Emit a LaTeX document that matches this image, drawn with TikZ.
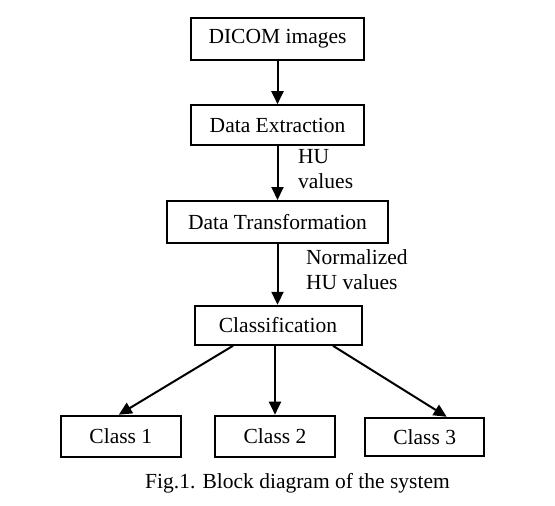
\documentclass[tikz,border=0pt]{standalone}
\usepackage{fontspec}
\setmainfont{Liberation Serif}
\usepackage{tikz}
\usetikzlibrary{arrows.meta}
\tikzstyle{block}=[rectangle, draw, line width=2pt, inner sep=0pt, font=\fontsize{21.5pt}{25pt}\selectfont]
\tikzstyle{flow}=[line width=2pt, -{Triangle[length=13pt, width=12pt]}]
\tikzstyle{lbl}=[align=left, inner sep=0pt, font=\fontsize{21.5pt}{25pt}\selectfont]

\begin{document}
\begin{tikzpicture}[x=1pt, y=-1pt]
                \useasboundingbox (0, 0) rectangle (555, 506);
                \node[block, minimum width=173pt, minimum height=42pt] (dicom) at (277.5, 38.7) {DICOM images};
                \node[block, minimum width=173pt, minimum height=40pt] (extr) at (277.5, 125.2) {Data Extraction};
                \node[block, minimum width=221pt, minimum height=42pt] (trans) at (277.5, 222) {Data Transformation};
                \node[block, minimum width=167pt, minimum height=39pt] (cls) at (278, 325.3) {Classification};
                \node[block, minimum width=120pt, minimum height=41pt] (c1) at (120.8, 436.2) {Class 1};
                \node[block, minimum width=120pt, minimum height=41pt] (c2) at (275, 436.2) {Class 2};
                \node[block, minimum width=119pt, minimum height=38pt] (c3) at (424.7, 436.8) {Class 3};
                \node[lbl, anchor=west] (hu) at (298, 169.5) {HU\\values};
                \node[lbl, anchor=west] (norm) at (306, 270) {Normalized\\HU values};
                \node[lbl] (cap) at (297.5, 483) {Fig.1. Block diagram of the system};
                \draw[flow] (dicom) -- (extr);
                \draw[flow] (extr) -- (trans);
                \draw[flow] (trans) -- (trans |- cls.north);
                \draw[flow] ([xshift=-45pt]cls.south) -- ([xshift=-2pt]c1.north);
                \draw[flow] (cls.south -| c2.north) -- (c2.north);
                \draw[flow] ([xshift=55pt]cls.south) -- ([xshift=22pt]c3.north);
            \end{tikzpicture}
\end{document}
